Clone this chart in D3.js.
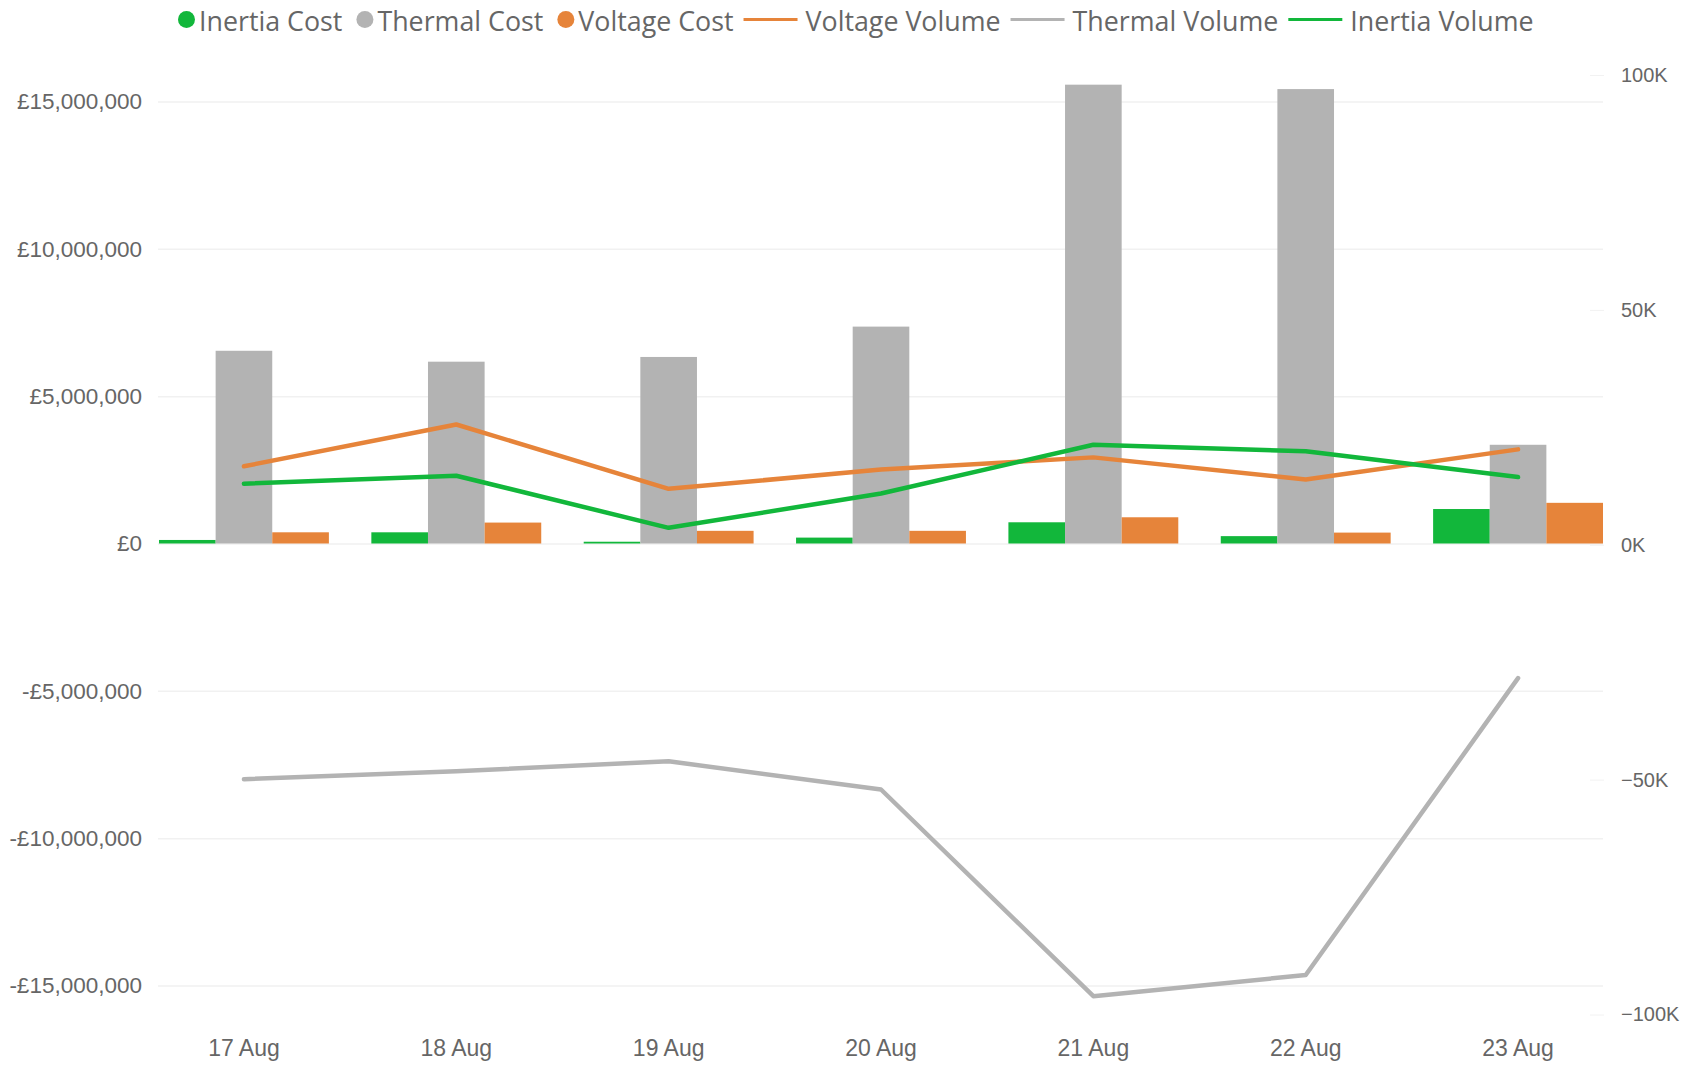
<!DOCTYPE html>
<html>
<head>
<meta charset="utf-8">
<script src="https://cdn.jsdelivr.net/npm/d3@7"></script>
<style>
  body { margin: 0; background: #fff; }
  svg { display: block; font-family: "Segoe UI", "Open Sans", sans-serif; }
</style>
</head>
<body>
<script>
// Chart data ------------------------
const dates = ['17 Aug', '18 Aug', '19 Aug', '20 Aug', '21 Aug', '22 Aug', '23 Aug'];

// costs in £ (left axis)
const inertiaCost = [120000, 380000, 60000, 200000, 720000, 250000, 1170000];
const thermalCost = [6540000, 6170000, 6330000, 7360000, 15570000, 15420000, 3350000];
const voltageCost = [380000, 710000, 430000, 430000, 890000, 370000, 1380000];

// volumes (right axis)
const voltageVolume = [16700, 25600, 11900, 16000, 18600, 13900, 20300];
const thermalVolume = [-49900, -48200, -46100, -52100, -96100, -91600, -28400];
const inertiaVolume = [13000, 14700, 3600, 10900, 21300, 19900, 14400];

const costTicks = [-15000000, -10000000, -5000000, 0, 5000000, 10000000, 15000000];
const volumeTicks = [-100000, -50000, 0, 50000, 100000];

const colors = {inertia: '#12B73B', thermal: '#B3B3B3', voltage: '#E6843A'};

document.addEventListener('DOMContentLoaded', () => {
  drawChart();
});

const drawChart = () => {
  const width = 1681, height = 1066;
  const plot = {left: 159, right: 1603, top: 72, bottom: 1015};
  const textColor = '#666666';

  const svg = d3.select('body')
        .append('svg')
        .attr('width', width)
        .attr('height', height);

  // Scales ------------------------
  const x = d3.scaleBand()
        .domain(dates)
        .range([plot.left, plot.right])
        .paddingInner(0.2)
        .paddingOuter(0);

  const xSub = d3.scaleBand()
        .domain(['inertia', 'thermal', 'voltage'])
        .range([0, x.bandwidth()]);

  const yCost = d3.scaleLinear()
        .domain([-16000000, 16000000])
        .range([plot.bottom, plot.top]);

  const yVol = d3.scaleLinear()
        .domain([-100000, 100000])
        .range([1014.5, 75]);

  const fmtCost = v => (v < 0 ? '-' : '') + '£' + d3.format(',')(Math.abs(v));
  const fmtVol = v => d3.format('d')(v / 1000) + 'K';

  // Gridlines ---------------------
  svg.append('g')
    .attr('class', 'grid')
    .attr('transform', `translate(${plot.left - 1},0)`)
    .call(d3.axisLeft(yCost).tickValues(costTicks).tickSize(-(plot.right - plot.left + 1)).tickFormat(''))
    .call(g => g.select('.domain').remove())
    .call(g => g.selectAll('line').attr('stroke', '#f1f1f1').attr('stroke-width', 1.5));

  // Left axis ---------------------
  svg.append('g')
    .attr('transform', `translate(${plot.left - 1},0)`)
    .call(d3.axisLeft(yCost).tickValues(costTicks).tickFormat(fmtCost).tickSize(0).tickPadding(16))
    .call(g => g.select('.domain').remove())
    .call(g => g.selectAll('text')
      .attr('fill', textColor)
      .style('font-size', '22.5px'));

  // Right axis --------------------
  svg.append('g')
    .attr('transform', 'translate(1590,0)')
    .call(d3.axisRight(yVol).tickValues(volumeTicks).tickFormat(fmtVol).tickSize(14).tickPadding(17))
    .call(g => g.select('.domain').remove())
    .call(g => g.selectAll('line').attr('stroke', '#f2f2f2'))
    .call(g => g.selectAll('text')
      .attr('fill', textColor)
      .style('font-size', '20px'));

  // X axis ------------------------
  svg.append('g')
    .attr('transform', 'translate(0,1032)')
    .call(d3.axisBottom(x).tickSize(0).tickPadding(8))
    .call(g => g.select('.domain').remove())
    .call(g => g.selectAll('text')
      .attr('fill', textColor)
      .style('font-size', '23px'));

  // Bars --------------------------
  const barSeries = [
    {key: 'inertia', values: inertiaCost},
    {key: 'thermal', values: thermalCost},
    {key: 'voltage', values: voltageCost}
  ];

  svg.append('g')
    .attr('class', 'bars')
    .selectAll('g')
    .data(barSeries)
    .enter()
    .append('g')
    .attr('fill', d => colors[d.key])
    .selectAll('rect')
    .data(s => s.values.map((v, i) => ({key: s.key, date: dates[i], value: v})))
    .enter()
    .append('rect')
    .attr('x', d => x(d.date) + xSub(d.key))
    .attr('width', xSub.bandwidth())
    .attr('y', d => yCost(Math.max(0, d.value)))
    .attr('height', d => Math.abs(yCost(d.value) - yCost(0)));

  // Lines -------------------------
  const lineSeries = [
    {key: 'thermal', values: thermalVolume},
    {key: 'voltage', values: voltageVolume},
    {key: 'inertia', values: inertiaVolume}
  ];

  const line = d3.line()
        .x((d, i) => x(dates[i]) + x.bandwidth() / 2)
        .y(d => yVol(d));

  svg.append('g')
    .attr('class', 'lines')
    .selectAll('path')
    .data(lineSeries)
    .enter()
    .append('path')
    .attr('d', d => line(d.values))
    .attr('fill', 'none')
    .attr('stroke', d => colors[d.key])
    .attr('stroke-width', 4.5)
    .attr('stroke-linejoin', 'round')
    .attr('stroke-linecap', 'round');

  // Legend ------------------------
  const legendItems = [
    {label: 'Inertia Cost', key: 'inertia', type: 'dot'},
    {label: 'Thermal Cost', key: 'thermal', type: 'dot'},
    {label: 'Voltage Cost', key: 'voltage', type: 'dot'},
    {label: 'Voltage Volume', key: 'voltage', type: 'line'},
    {label: 'Thermal Volume', key: 'thermal', type: 'line'},
    {label: 'Inertia Volume', key: 'inertia', type: 'line'}
  ];

  const legend = svg.append('g').attr('class', 'legend');
  let lx = 178;
  const ly = 19.5;
  legendItems.forEach((item, i) => {
    let tx;
    if(item.type === 'dot'){
      legend.append('circle')
        .attr('cx', lx + 8.5)
        .attr('cy', ly)
        .attr('r', 8.5)
        .attr('fill', colors[item.key]);
      tx = lx + 21;
    } else {
      legend.append('line')
        .attr('x1', lx).attr('x2', lx + 54)
        .attr('y1', ly).attr('y2', ly)
        .attr('stroke', colors[item.key])
        .attr('stroke-width', 3);
      tx = lx + 62;
    }
    const t = legend.append('text')
      .attr('x', tx)
      .attr('y', ly + 2)
      .attr('dy', '0.35em')
      .attr('fill', textColor)
      .style('font-size', '26.8px')
      .text(item.label);
    const next = legendItems[i + 1];
    const gap = next && next.type === 'line' ? 10 : 14;
    lx = tx + t.node().getComputedTextLength() + gap;
  });
}
</script>
</body>
</html>
